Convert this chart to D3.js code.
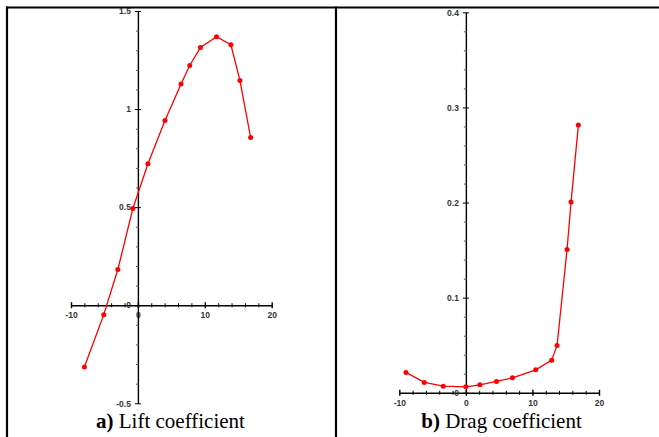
<!DOCTYPE html>
<html>
<head>
<meta charset="utf-8">
<script src="https://cdn.jsdelivr.net/npm/d3@7"></script>
<style>
body { margin: 0; background: #fff; }
.tk text { font: bold 8.5px "Liberation Sans", Arial, sans-serif; fill: #333; }
.cap { font-family: "Liberation Serif", "Times New Roman", serif; font-size: 21px; fill: #000; }
</style>
</head>
<body>
<script>
// angle of attack (deg) vs coefficients
const liftAlpha = [-8.0, -5.1, -3.0, -0.75, 1.5, 4.05, 6.45, 7.75, 9.35, 11.75, 13.9, 15.25, 16.85];
const liftCl = [-0.315, -0.048, 0.182, 0.493, 0.721, 0.942, 1.128, 1.222, 1.314, 1.369, 1.328, 1.146, 0.855];
const dragAlpha = [-9.0, -6.25, -3.4, 0, 2.1, 4.6, 7.0, 10.5, 12.9, 13.7, 15.2, 15.8, 16.9];
const dragCd = [0.0214, 0.0109, 0.007, 0.0063, 0.0084, 0.012, 0.0157, 0.0241, 0.0343, 0.0498, 0.1506, 0.2005, 0.2814];

const xTicks = [-10, 0, 10, 20];
const liftTicks = [-0.5, 0, 0.5, 1, 1.5];
const dragTicks = [0, 0.1, 0.2, 0.3, 0.4];

const svg = d3.select("body").append("svg")
    .attr("width", 659)
    .attr("height", 437);

// frame of the figure table
svg.append("line").attr("x1", 6).attr("x2", 659).attr("y1", 7.5).attr("y2", 7.5)
    .attr("stroke", "#000").attr("stroke-width", 2.2);
svg.append("line").attr("x1", 7).attr("x2", 7).attr("y1", 6.5).attr("y2", 437)
    .attr("stroke", "#000").attr("stroke-width", 2.2);
svg.append("line").attr("x1", 336).attr("x2", 336).attr("y1", 6.5).attr("y2", 437)
    .attr("stroke", "#000").attr("stroke-width", 2.2);

// plain hyphen for negatives, like the original
const fmt = d => String(+d.toFixed(2));
const isMajor = (list, d) => list.some(t => Math.abs(t - d) < 1e-6);

function panel(opt) {
    const x = d3.scaleLinear().domain([-10, 20]).range(opt.xr);
    const y = d3.scaleLinear().domain(opt.yd).range(opt.yr);
    const g = svg.append("g");

    const xMinor = d3.range(-10, 20.001, 2);
    const xAxis = d3.axisBottom(x)
        .tickValues(xMinor)
        .tickSizeInner(3)
        .tickSizeOuter(0)
        .tickPadding(4)
        .tickFormat(d => xTicks.includes(d) ? fmt(d) : "");
    const gx = g.append("g").attr("class", "tk")
        .attr("transform", `translate(0,${y(0)})`)
        .call(xAxis);

    const yStep = (opt.yd[1] - opt.yd[0]) / 20;
    const yMinor = d3.range(0, 21).map(i => +(opt.yd[0] + i * yStep).toFixed(4));
    const yAxis = d3.axisLeft(y)
        .tickValues(yMinor)
        .tickSizeInner(3)
        .tickSizeOuter(0)
        .tickPadding(4)
        .tickFormat(d => isMajor(opt.yTicks, d) ? fmt(d) : "");
    const gy = g.append("g").attr("class", "tk")
        .attr("transform", `translate(${x(0)},0)`)
        .call(yAxis);

    [gx, gy].forEach(a => {
        a.select(".domain").attr("stroke", "#000").attr("stroke-width", 1.4);
        a.selectAll(".tick line").attr("stroke", "#000").attr("stroke-width", 1);
    });
    gx.selectAll(".tick line")
        .attr("y1", d => xTicks.includes(d) ? -3 : -2)
        .attr("y2", d => xTicks.includes(d) ? 3 : 2)
        .attr("stroke-width", d => xTicks.includes(d) ? 1.4 : 1);
    gy.selectAll(".tick line")
        .attr("x1", d => isMajor(opt.yTicks, d) ? -3 : -2)
        .attr("x2", d => isMajor(opt.yTicks, d) ? 3 : 1)
        .attr("stroke", d => isMajor(opt.yTicks, d) ? "#000" : "#555");

    const pts = opt.xs.map((v, i) => [v, opt.ys[i]]);
    g.append("path")
        .datum(pts)
        .attr("fill", "none")
        .attr("stroke", "#ff0000")
        .attr("stroke-width", 1.3)
        .attr("d", d3.line().x(d => x(d[0])).y(d => y(d[1])));
    g.selectAll("circle")
        .data(pts)
        .enter()
        .append("circle")
        .attr("cx", d => x(d[0]))
        .attr("cy", d => y(d[1]))
        .attr("r", 2.5)
        .style("fill", "#ff0000");

    const cap = g.append("text").attr("class", "cap")
        .attr("x", opt.capX).attr("y", 428)
        .attr("text-anchor", "middle");
    cap.append("tspan").attr("font-weight", "bold").text(opt.cap[0]);
    cap.append("tspan").text(opt.cap[1]);
}

panel({
    xr: [71, 271.7], yd: [-0.5, 1.5], yr: [403.3, 11],
    yTicks: liftTicks, xs: liftAlpha, ys: liftCl,
    cap: ["a)", " Lift coefficient"], capX: 170.5
});
panel({
    xr: [399.3, 599], yd: [0, 0.4], yr: [392.8, 12.3],
    yTicks: dragTicks, xs: dragAlpha, ys: dragCd,
    cap: ["b)", " Drag coefficient"], capX: 501.5
});
</script>
</body>
</html>
